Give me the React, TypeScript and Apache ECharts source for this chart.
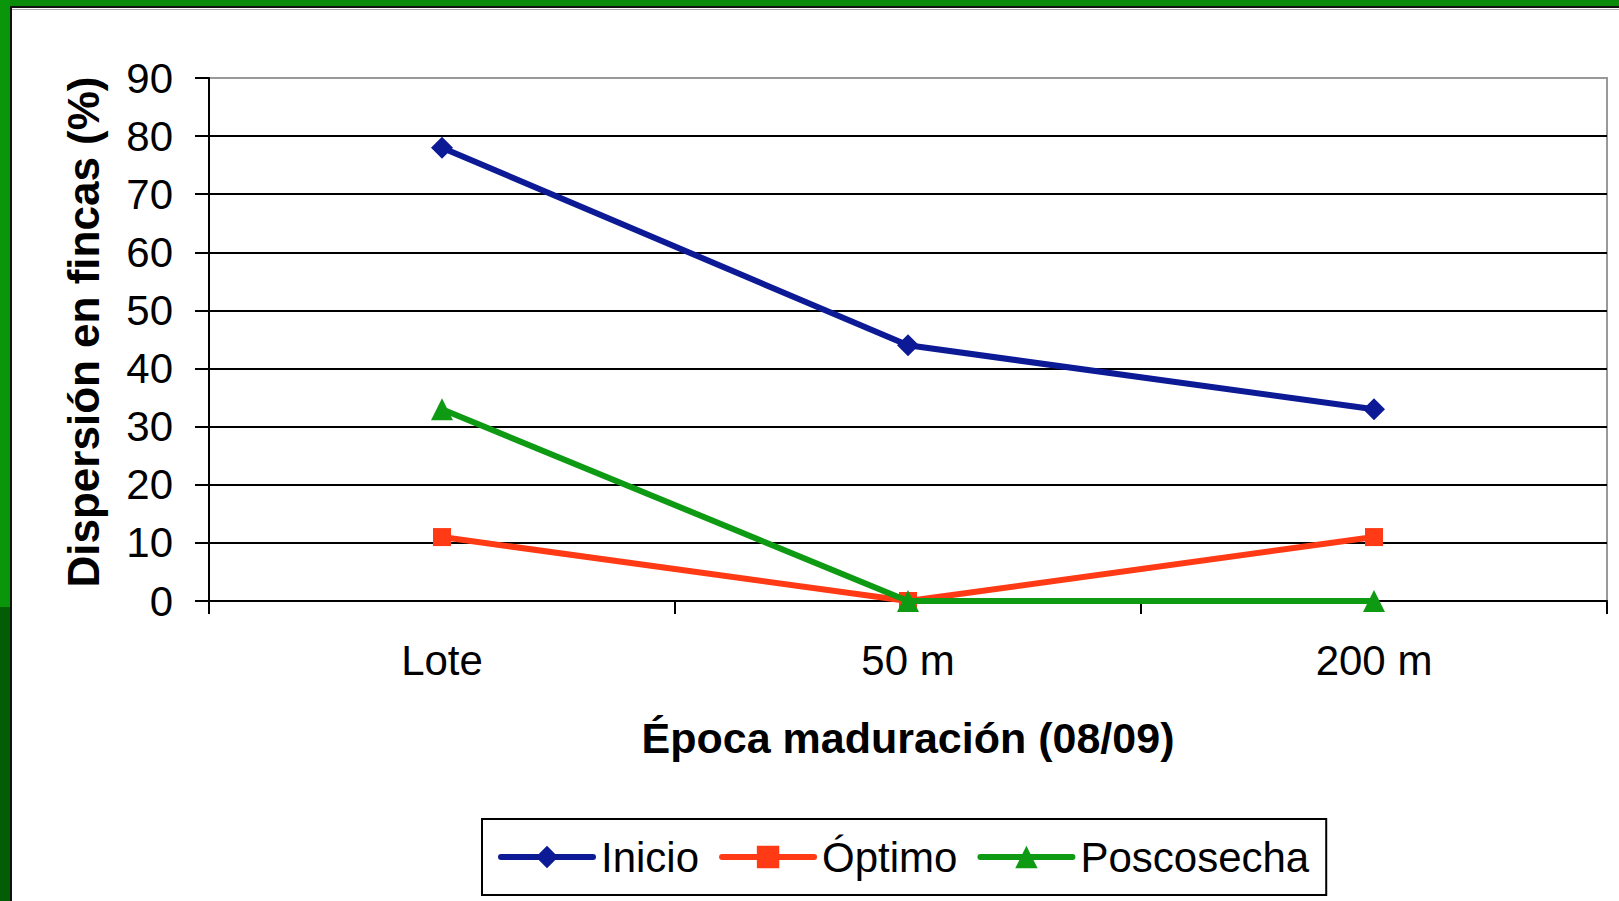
import React, { useEffect, useRef } from "react";
import * as echarts from "echarts";

const categories = ["Lote", "50 m", "200 m"];
const inicio = [78, 44, 33];
const optimo = [11, 0, 11];
const poscosecha = [33, 0, 0];
const seriesNames = ["Inicio", "Óptimo", "Poscosecha"];
const yTitle = "Dispersión en fincas (%)";
const xTitle = "Época maduración (08/09)";

const FONT = "'Liberation Sans', Arial, sans-serif";

export default function App() {
  const ref = useRef<HTMLDivElement>(null);
  useEffect(() => {
    const chart = echarts.init(ref.current!, null, { renderer: "svg" });
    const splitColors = ["#000", "#000", "#000", "#000", "#000", "#000", "#000", "#000", "#000", "#999"];
    chart.setOption({
      animation: false,
      backgroundColor: "#fff",
      textStyle: { fontFamily: FONT },
      graphic: [
        { type: "rect", shape: { x: 0, y: 0, width: 1619, height: 6 }, style: { fill: "#0a8c0a" }, silent: true },
        { type: "rect", shape: { x: 0, y: 6, width: 1619, height: 2 }, style: { fill: "#111" }, silent: true },
        { type: "rect", shape: { x: 0, y: 9, width: 1619, height: 1 }, style: { fill: "#aaa" }, silent: true },
        { type: "rect", shape: { x: 0, y: 0, width: 10, height: 607 }, style: { fill: "#0a960a" }, silent: true },
        { type: "rect", shape: { x: 0, y: 607, width: 10, height: 294 }, style: { fill: "#045c04" }, silent: true },
        { type: "rect", shape: { x: 10, y: 6, width: 2, height: 895 }, style: { fill: "#111" }, silent: true },
        {
          type: "text",
          x: 83,
          y: 332,
          rotation: Math.PI / 2,
          style: {
            text: yTitle,
            fontSize: 44,
            fontWeight: "bold",
            fontFamily: FONT,
            fill: "#000",
            align: "center",
            verticalAlign: "middle",
          },
          silent: true,
        },
      ],
      grid: {
        left: 209,
        right: 12,
        top: 78,
        bottom: 300,
        show: true,
        borderColor: "#999",
        borderWidth: 2,
        containLabel: false,
      },
      legend: {
        data: seriesNames,
        left: 482,
        top: 819,
        orient: "horizontal",
        itemWidth: 92,
        itemHeight: 28,
        itemGap: 20,
        padding: [17, 17, 17, 16],
        borderColor: "#000",
        borderWidth: 2,
        backgroundColor: "#fff",
        lineStyle: { width: 6, cap: "round" },
        textStyle: { fontSize: 42, color: "#000", fontFamily: FONT, padding: [0, 0, 0, 3] },
      },
      xAxis: {
        type: "category",
        data: categories,
        boundaryGap: true,
        name: xTitle,
        nameLocation: "middle",
        nameGap: 115,
        nameTextStyle: { fontSize: 43, fontWeight: "bold", color: "#000", fontFamily: FONT },
        axisLine: { show: true, lineStyle: { color: "#000", width: 2 } },
        axisTick: { show: true, length: 13, lineStyle: { color: "#000", width: 2 } },
        axisLabel: { fontSize: 42, color: "#000", margin: 38, fontFamily: FONT },
        splitLine: { show: false },
      },
      yAxis: {
        type: "value",
        min: 0,
        max: 90,
        interval: 10,
        axisLine: { show: true, lineStyle: { color: "#000", width: 2 } },
        axisTick: { show: true, length: 14, lineStyle: { color: "#000", width: 2 } },
        axisLabel: { fontSize: 42, color: "#000", margin: 36, fontFamily: FONT },
        splitLine: { show: true, lineStyle: { color: splitColors, width: 2 } },
      },
      series: [
        {
          name: seriesNames[0],
          type: "line",
          data: inicio,
          symbol: "diamond",
          symbolSize: 22,
          lineStyle: { color: "#0c1a96", width: 6 },
          itemStyle: { color: "#0c1a96" },
          z: 4,
        },
        {
          name: seriesNames[1],
          type: "line",
          data: optimo,
          symbol: "rect",
          symbolSize: 18,
          lineStyle: { color: "#ff3a14", width: 6 },
          itemStyle: { color: "#ff3a14" },
          z: 3,
        },
        {
          name: seriesNames[2],
          type: "line",
          data: poscosecha,
          symbol: "triangle",
          symbolSize: 22,
          lineStyle: { color: "#0f9a14", width: 6 },
          itemStyle: { color: "#0f9a14" },
          z: 5,
        },
      ],
    });
    return () => chart.dispose();
  }, []);
  return (
    <div
      ref={ref}
      style={{ position: "absolute", left: 0, top: 0, width: "1619px", height: "901px" }}
    />
  );
}
